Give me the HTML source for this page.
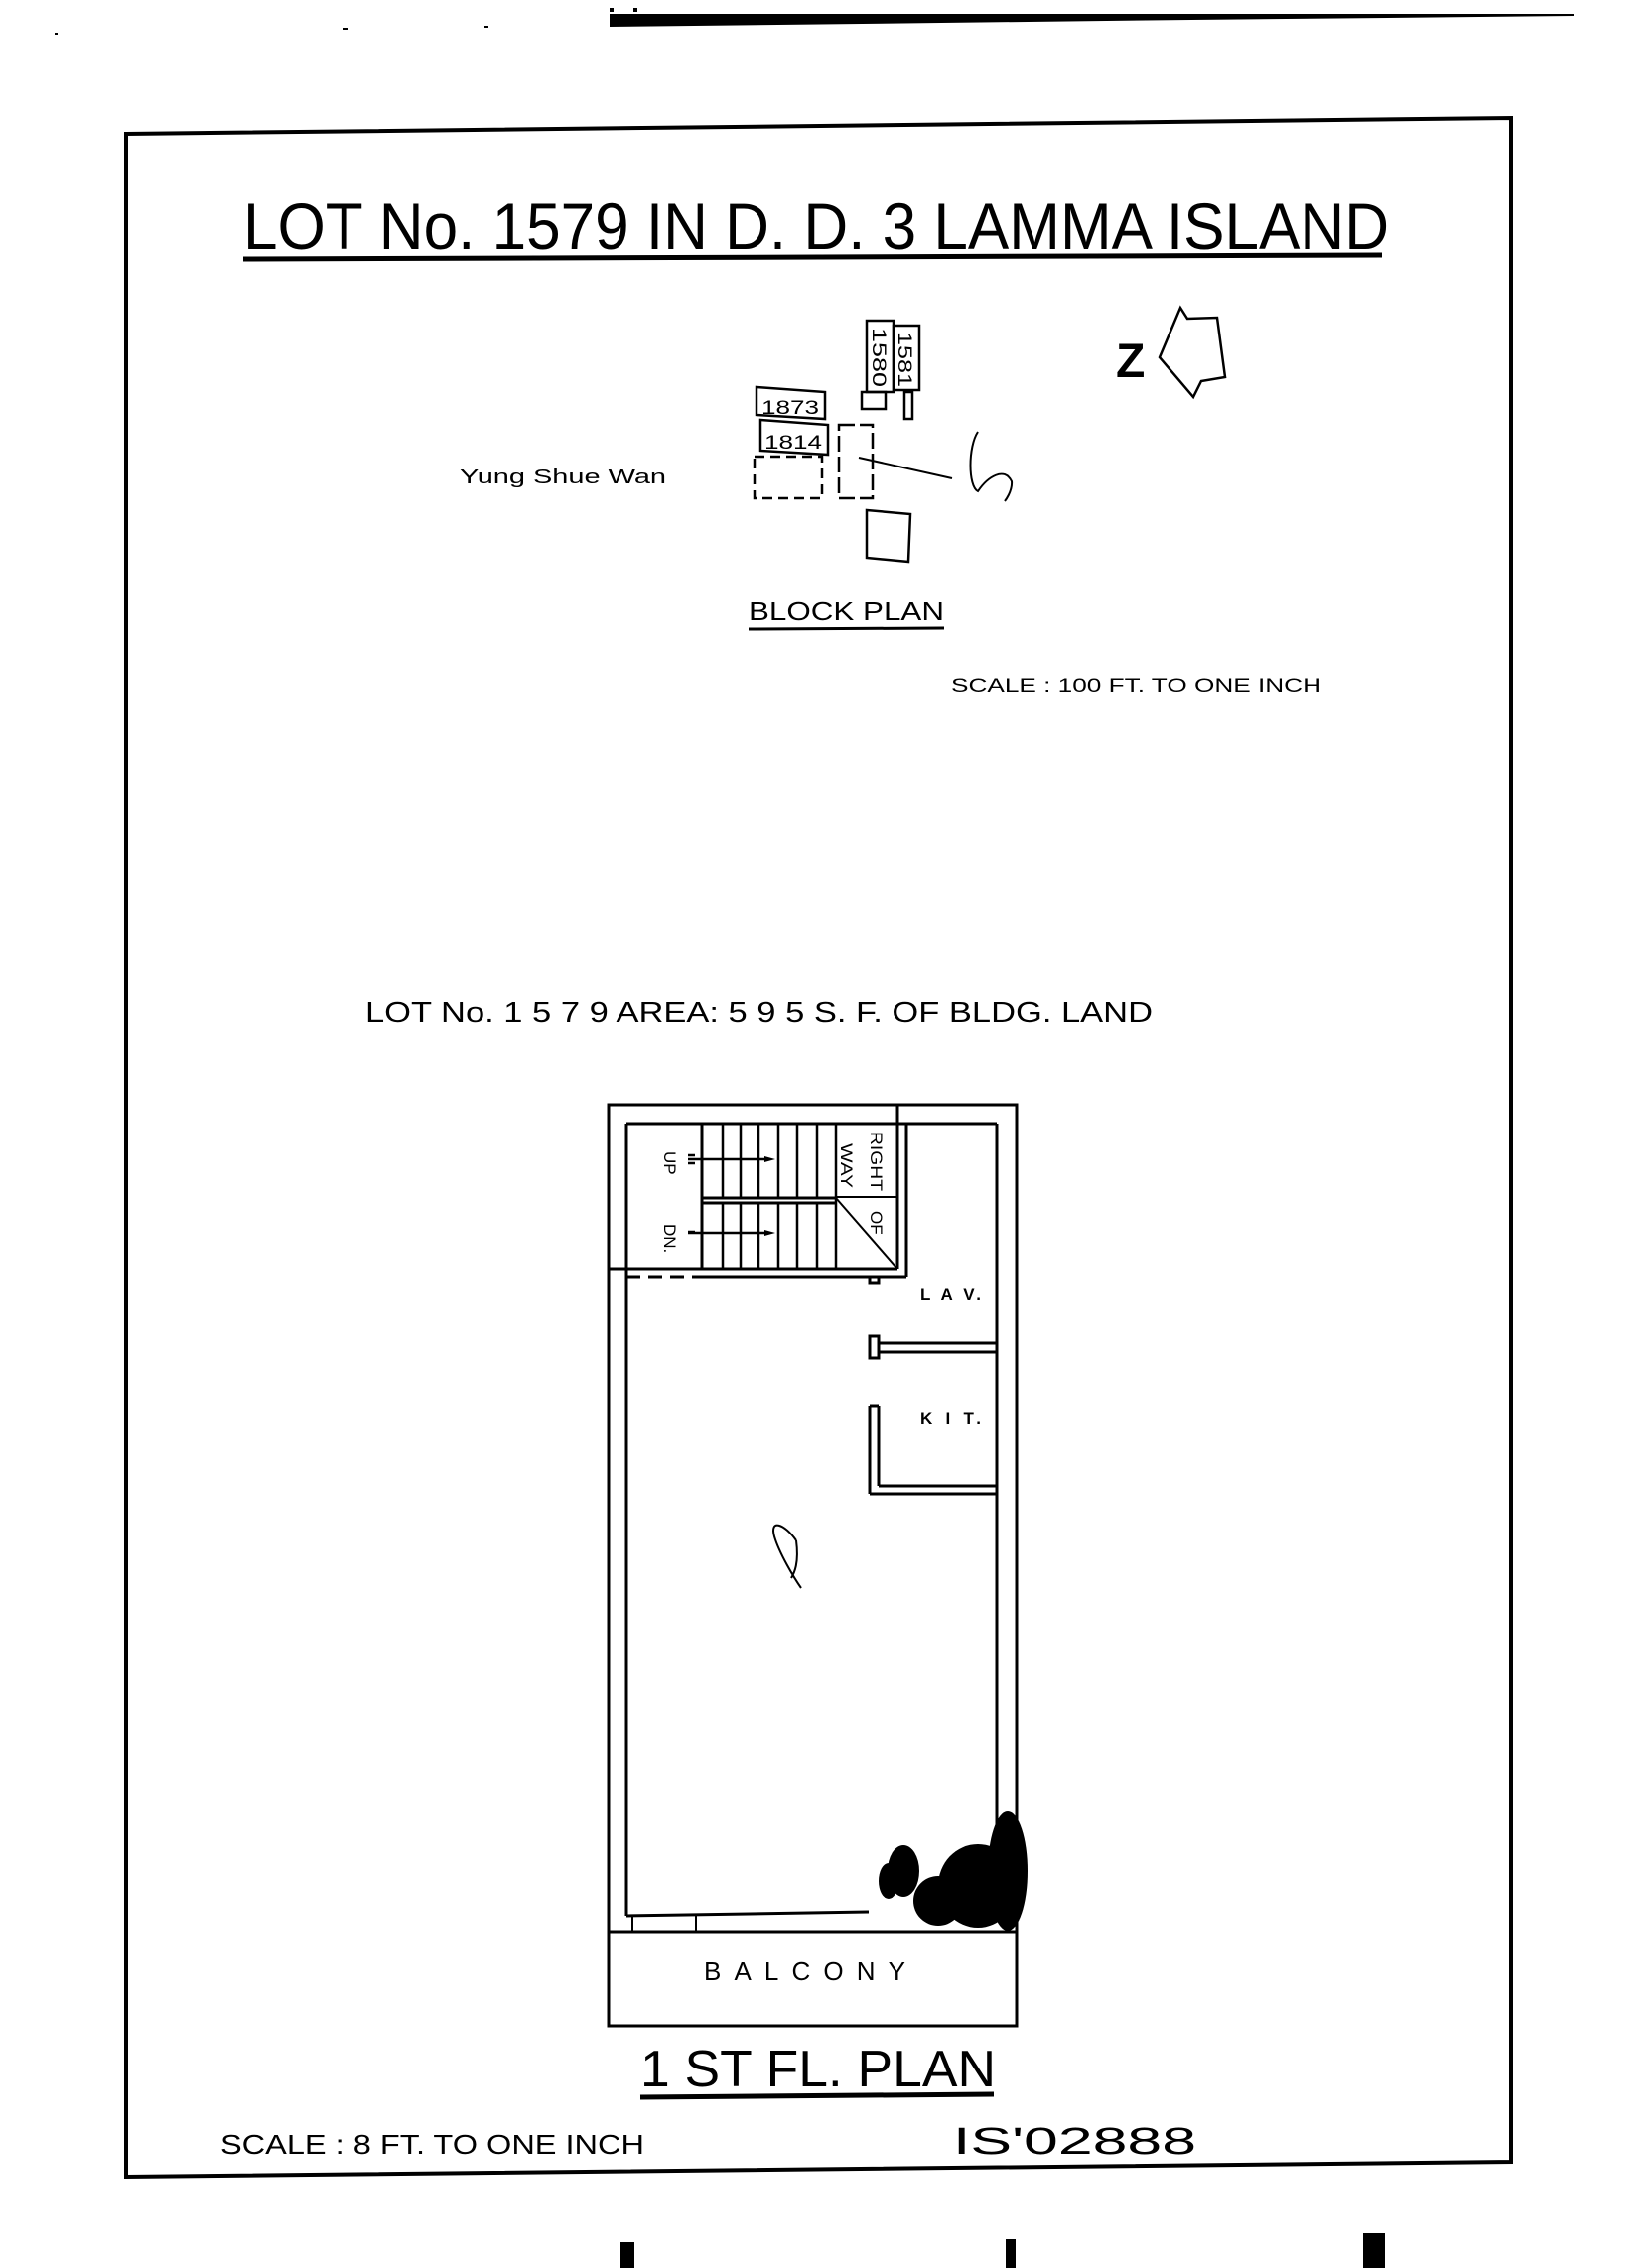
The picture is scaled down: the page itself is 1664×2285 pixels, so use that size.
<!DOCTYPE html>
<html><head><meta charset="utf-8"><style>
html,body{margin:0;padding:0;background:#fff}
svg{display:block}
text{font-family:"Liberation Sans",sans-serif;fill:#000}
</style></head><body>
<svg width="1664" height="2285" viewBox="0 0 1664 2285" xmlns="http://www.w3.org/2000/svg">
<polygon points="614,14 1585,14 1585,16 1200,20 614,27" fill="#000"/>
<rect x="614" y="8" width="4" height="4" fill="#000"/><rect x="638" y="8" width="4" height="4" fill="#000"/>
<rect x="55" y="33" width="3" height="2" fill="#000"/><rect x="345" y="28" width="6" height="2" fill="#000"/><rect x="488" y="26" width="4" height="2" fill="#000"/>
<polygon points="127,135 1522,119 1522,2178 127,2193" fill="none" stroke="#000" stroke-width="4"/>
<text x="245" y="251" font-size="66" textLength="1154" lengthAdjust="spacingAndGlyphs">LOT No. 1579  IN  D. D. 3  LAMMA  ISLAND</text>
<line x1="245" y1="261" x2="1392" y2="257" stroke="#000" stroke-width="5"/>
<g fill="none" stroke="#000" stroke-width="2.5">
<rect x="873" y="323" width="27" height="72"/>
<rect x="900" y="328" width="26" height="65"/>
<rect x="868" y="395" width="24" height="17"/>
<rect x="911" y="395" width="8" height="27"/>
<polygon points="762,390 831,395 831,422 762,418"/>
<polygon points="766,423 834,428 834,458 766,454"/>
<rect x="760" y="460" width="68" height="42" stroke-dasharray="10,6"/>
<rect x="845" y="428" width="34" height="74" stroke-dasharray="16,5"/>
<polygon points="873,514 917,518 915,566 873,562"/>
<path d="M865,461 L959,482" stroke-width="2"/>
<path d="M985,435 C975,450 975,490 985,495 C995,480 1012,470 1019,485 C1020,495 1012,505 1012,505" stroke-width="2"/>
<polygon points="1189,310 1196,321 1226,320 1234,380 1210,384 1202,400 1168,360" stroke-width="2.5"/>
</g>
<text font-size="19" transform="translate(879,330) rotate(90)" textLength="60" lengthAdjust="spacingAndGlyphs">1580</text>
<text font-size="19" transform="translate(905,334) rotate(90)" textLength="56" lengthAdjust="spacingAndGlyphs">1581</text>
<text x="767" y="417" font-size="19" textLength="58" lengthAdjust="spacingAndGlyphs">1873</text>
<text x="770" y="452" font-size="19" textLength="58" lengthAdjust="spacingAndGlyphs">1814</text>
<text x="1124" y="380" font-size="48" font-weight="bold">Z</text>
<text x="463" y="487" font-size="20" textLength="208" lengthAdjust="spacingAndGlyphs">Yung  Shue  Wan</text>
<text x="754" y="625" font-size="26" textLength="197" lengthAdjust="spacingAndGlyphs">BLOCK  PLAN</text>
<line x1="754" y1="634" x2="951" y2="633" stroke="#000" stroke-width="3"/>
<text x="958" y="697" font-size="19" textLength="373" lengthAdjust="spacingAndGlyphs">SCALE :  100  FT.  TO  ONE  INCH</text>
<text x="368" y="1030" font-size="29" textLength="793" lengthAdjust="spacingAndGlyphs">LOT  No.  1 5 7 9   AREA:  5 9 5   S. F.  OF  BLDG.  LAND</text>
<g fill="none" stroke="#000" stroke-width="3">
<rect x="613" y="1113" width="411" height="928"/>
<line x1="631" y1="1132" x2="631" y2="1930"/>
<line x1="631" y1="1132" x2="1004" y2="1132"/>
<line x1="1004" y1="1132" x2="1004" y2="1930"/>
<line x1="904" y1="1113" x2="904" y2="1279"/>
<line x1="913" y1="1132" x2="913" y2="1287"/>
<line x1="613" y1="1279" x2="904" y2="1279"/>
<line x1="703" y1="1287" x2="913" y2="1287"/>
<line x1="631" y1="1287" x2="703" y2="1287" stroke-dasharray="14,8"/>
<line x1="707" y1="1132" x2="707" y2="1279"/>
<line x1="707" y1="1207" x2="842" y2="1207"/>
<line x1="707" y1="1212" x2="842" y2="1212"/>
<line x1="842" y1="1206" x2="904" y2="1206" stroke-width="2"/>
<line x1="842" y1="1207" x2="903" y2="1277" stroke-width="2"/>
<line x1="631" y1="1930" x2="875" y2="1926"/>
<line x1="613" y1="1946" x2="1024" y2="1946"/>
<line x1="637" y1="1930" x2="637" y2="1946" stroke-width="2"/>
<line x1="701" y1="1930" x2="701" y2="1946" stroke-width="2"/>
<line x1="885" y1="1353" x2="1004" y2="1353"/>
<line x1="885" y1="1362" x2="1004" y2="1362"/>
<rect x="876" y="1346" width="9" height="22"/>
<line x1="876" y1="1417" x2="876" y2="1505"/>
<line x1="885" y1="1417" x2="885" y2="1497"/>
<line x1="876" y1="1417" x2="885" y2="1417"/>
<line x1="885" y1="1497" x2="1004" y2="1497"/>
<line x1="876" y1="1505" x2="1004" y2="1505"/>
<rect x="876" y="1287" width="9" height="6"/>
</g>
<g stroke="#000" stroke-width="2.5">
<line x1="728" y1="1132" x2="728" y2="1207"/><line x1="746" y1="1132" x2="746" y2="1207"/><line x1="764" y1="1132" x2="764" y2="1207"/><line x1="784" y1="1132" x2="784" y2="1207"/><line x1="803" y1="1132" x2="803" y2="1207"/><line x1="823" y1="1132" x2="823" y2="1207"/><line x1="842" y1="1132" x2="842" y2="1279"/>
<line x1="728" y1="1212" x2="728" y2="1279"/><line x1="746" y1="1212" x2="746" y2="1279"/><line x1="764" y1="1212" x2="764" y2="1279"/><line x1="784" y1="1212" x2="784" y2="1279"/><line x1="803" y1="1212" x2="803" y2="1279"/><line x1="823" y1="1212" x2="823" y2="1279"/>
<line x1="693" y1="1168" x2="775" y2="1168"/><line x1="693" y1="1242" x2="775" y2="1242"/>
<line x1="693" y1="1164" x2="700" y2="1164"/><line x1="693" y1="1172" x2="700" y2="1172"/><line x1="693" y1="1241" x2="700" y2="1241"/>
</g>
<polygon points="770,1165 781,1168 770,1171" fill="#000"/><polygon points="770,1239 781,1242 770,1245" fill="#000"/>
<text font-size="17" transform="translate(669,1160) rotate(90)">UP</text>
<text font-size="17" transform="translate(669,1233) rotate(90)">DN.</text>
<text font-size="17" transform="translate(877,1140) rotate(90)" textLength="60" lengthAdjust="spacingAndGlyphs">RIGHT</text>
<text font-size="17" transform="translate(847,1152) rotate(90)" textLength="45" lengthAdjust="spacingAndGlyphs">WAY</text>
<text font-size="17" transform="translate(877,1220) rotate(90)">OF</text>
<text x="927" y="1310" font-size="17" font-weight="bold" textLength="61" lengthAdjust="spacing">L A V.</text>
<text x="927" y="1435" font-size="17" font-weight="bold" textLength="61" lengthAdjust="spacing">K I T.</text>
<path d="M802,1552 C790,1535 775,1530 780,1548 C785,1565 800,1590 807,1600 M802,1552 C805,1575 800,1585 797,1590" fill="none" stroke="#000" stroke-width="2"/>
<g fill="#000">
<ellipse cx="985" cy="1900" rx="40" ry="42"/>
<ellipse cx="1015" cy="1885" rx="20" ry="60"/>
<ellipse cx="910" cy="1885" rx="16" ry="26"/>
<ellipse cx="945" cy="1915" rx="25" ry="25"/>
<ellipse cx="895" cy="1895" rx="10" ry="18"/>
</g>
<text x="709" y="1995" font-size="26" textLength="203" lengthAdjust="spacing">BALCONY</text>
<text x="645" y="2102" font-size="52" textLength="358" lengthAdjust="spacingAndGlyphs">1 ST  FL.  PLAN</text>
<line x1="645" y1="2113" x2="1001" y2="2110" stroke="#000" stroke-width="5"/>
<text x="222" y="2170" font-size="28" textLength="427" lengthAdjust="spacingAndGlyphs">SCALE :  8  FT.  TO  ONE  INCH</text>
<text x="960" y="2170" font-size="38" textLength="245" lengthAdjust="spacingAndGlyphs" font-family="Liberation Serif">IS'02888</text>
<rect x="625" y="2259" width="14" height="26" fill="#000"/>
<rect x="1013" y="2256" width="10" height="29" fill="#000"/>
<rect x="1373" y="2250" width="22" height="35" fill="#000"/>
</svg>
</body></html>
